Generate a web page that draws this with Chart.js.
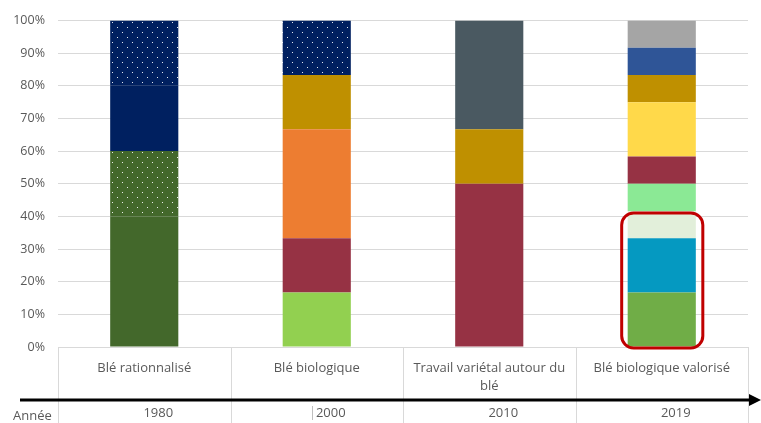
<!DOCTYPE html>
<html>
<head>
<meta charset="utf-8">
<script src="https://cdn.jsdelivr.net/npm/chart.js@4"></script>
<style>
  html, body { margin: 0; padding: 0; background: #fff; }
  #wrap { width: 761px; height: 423px; }
</style>
</head>
<body>
<div id="wrap"><canvas id="myChart"></canvas></div>
<script>
// categories and years
const categories = [
  "Blé rationnalisé",
  "Blé biologique",
  ["Travail variétal autour du", "blé"],
  "Blé biologique valorisé",
];
const years = ["1980", "2000", "2010", "2019"];
const yTickLabels = ["0%", "10%", "20%", "30%", "40%", "50%", "60%", "70%", "80%", "90%", "100%"];

// series values (% of each bar), bottom to top
const vertFonce = [40, 0, 0, 0];
const vertFoncePoints = [20, 0, 0, 0];
const marine = [20, 0, 0, 0];
const vertClair = [0, 16.67, 0, 0];
const vert = [0, 0, 0, 16.67];
const bleuCanard = [0, 0, 0, 16.67];
const vertPale = [0, 0, 0, 8.33];
const vertMenthe = [0, 0, 0, 8.33];
const bordeaux = [0, 16.67, 50, 8.33];
const orange = [0, 33.33, 0, 0];
const jaune = [0, 0, 0, 16.67];
const ocre = [0, 16.67, 16.67, 8.33];
const bleu = [0, 0, 0, 8.33];
const ardoise = [0, 0, 33.33, 0];
const gris = [0, 0, 0, 8.33];
const marinePoints = [20, 16.67, 0, 0];

// dotted fill
function dots(bg) {
  const c = document.createElement("canvas");
  c.width = 10;
  c.height = 10;
  const g = c.getContext("2d");
  g.fillStyle = bg;
  g.fillRect(0, 0, 10, 10);
  g.fillStyle = "rgba(255,255,255,0.9)";
  g.fillRect(2, 2, 1, 1);
  g.fillRect(7, 7, 1, 1);
  return g.createPattern(c, "repeat");
}

const ctx = document.getElementById("myChart").getContext("2d");

const tableau = {
  id: "tableau",
  afterDraw(chart) {
    const g = chart.ctx;
    const x = chart.scales.x;
    const area = chart.chartArea;
    const step = (area.right - area.left) / categories.length;
    g.save();
    // table lines
    g.strokeStyle = "#D9D9D9";
    g.lineWidth = 1;
    for (let i = 0; i <= categories.length; i++) {
      const px = Math.round(area.left + i * step) + 0.5;
      g.beginPath();
      g.moveTo(px, area.bottom);
      g.lineTo(px, 423);
      g.stroke();
    }
    // arrow
    g.strokeStyle = "#000";
    g.fillStyle = "#000";
    g.lineWidth = 3;
    g.beginPath();
    g.moveTo(20, 400);
    g.lineTo(752, 400);
    g.stroke();
    g.beginPath();
    g.moveTo(761, 400);
    g.lineTo(749, 394);
    g.lineTo(749, 406);
    g.closePath();
    g.fill();
    // years (cells are a bit right of the bars)
    g.font = "13px 'Open Sans'";
    g.fillStyle = "#595959";
    g.textAlign = "center";
    g.textBaseline = "middle";
    years.forEach((y, i) => {
      g.fillText(y, x.getPixelForValue(i) + 14, 413);
    });
    g.textAlign = "left";
    g.fillText("Année", 13, 416);
    g.strokeStyle = "#BFBFBF";
    g.lineWidth = 1;
    g.beginPath();
    g.moveTo(312.5, 406);
    g.lineTo(312.5, 420);
    g.stroke();
    // red frame around the 2019 bottom stack
    const meta = chart.getDatasetMeta(0);
    const bar = meta.data[3];
    const half = bar.width / 2;
    const left = bar.x - half - 6;
    const right = bar.x + half + 7;
    const top = chart.scales.y.getPixelForValue(41.67) + 2;
    const bottom = area.bottom + 1;
    g.strokeStyle = "#C00000";
    g.lineWidth = 3;
    g.beginPath();
    g.roundRect(left, top, right - left, bottom - top, 12);
    g.stroke();
    g.restore();
  },
};

const myChart = new Chart(ctx, {
  type: "bar",
  data: {
    labels: categories,
    datasets: [
      { label: "Vert foncé", data: vertFonce, backgroundColor: "#43682B" },
      { label: "Vert foncé pointillé", data: vertFoncePoints, backgroundColor: dots("#43682B") },
      { label: "Marine", data: marine, backgroundColor: "#002060" },
      { label: "Vert clair", data: vertClair, backgroundColor: "#92D050" },
      { label: "Vert", data: vert, backgroundColor: "#70AD47" },
      { label: "Bleu canard", data: bleuCanard, backgroundColor: "#0599C1" },
      { label: "Vert pâle", data: vertPale, backgroundColor: "#E2EFDA" },
      { label: "Vert menthe", data: vertMenthe, backgroundColor: "#8BE995" },
      { label: "Bordeaux", data: bordeaux, backgroundColor: "#963244" },
      { label: "Orange", data: orange, backgroundColor: "#ED7D31" },
      { label: "Jaune", data: jaune, backgroundColor: "#FFD94A" },
      { label: "Ocre", data: ocre, backgroundColor: "#BF9000" },
      { label: "Bleu", data: bleu, backgroundColor: "#2F5597" },
      { label: "Ardoise", data: ardoise, backgroundColor: "#4A5961" },
      { label: "Gris", data: gris, backgroundColor: "#A5A5A5" },
      { label: "Marine pointillé", data: marinePoints, backgroundColor: dots("#002060") },
    ],
  },
  options: {
    responsive: true,
    maintainAspectRatio: false,
    animation: false,
    categoryPercentage: 1,
    barPercentage: 0.395,
    layout: { padding: { top: 19, right: 13, left: 0, bottom: 0 } },
    plugins: {
      legend: { display: false },
      tooltip: { enabled: false },
    },
    scales: {
      x: {
        stacked: true,
        grid: { display: false },
        border: { display: true, color: "#D9D9D9" },
        ticks: {
          color: "#595959",
          font: { family: "'Open Sans'", size: 13, lineHeight: 1.4 },
          padding: 4,
          maxRotation: 0,
        },
        afterFit(scale) {
          scale.height = 76;
        },
      },
      y: {
        stacked: true,
        min: 0,
        max: 100,
        border: { display: false },
        grid: { color: "#D9D9D9", drawTicks: false },
        ticks: {
          stepSize: 10,
          padding: 13,
          color: "#595959",
          font: { family: "'Open Sans'", size: 12.5 },
          callback: (v, i) => yTickLabels[i],
        },
        afterFit(scale) {
          scale.width = 58;
        },
      },
    },
  },
  plugins: [tableau],
});
</script>
</body>
</html>
